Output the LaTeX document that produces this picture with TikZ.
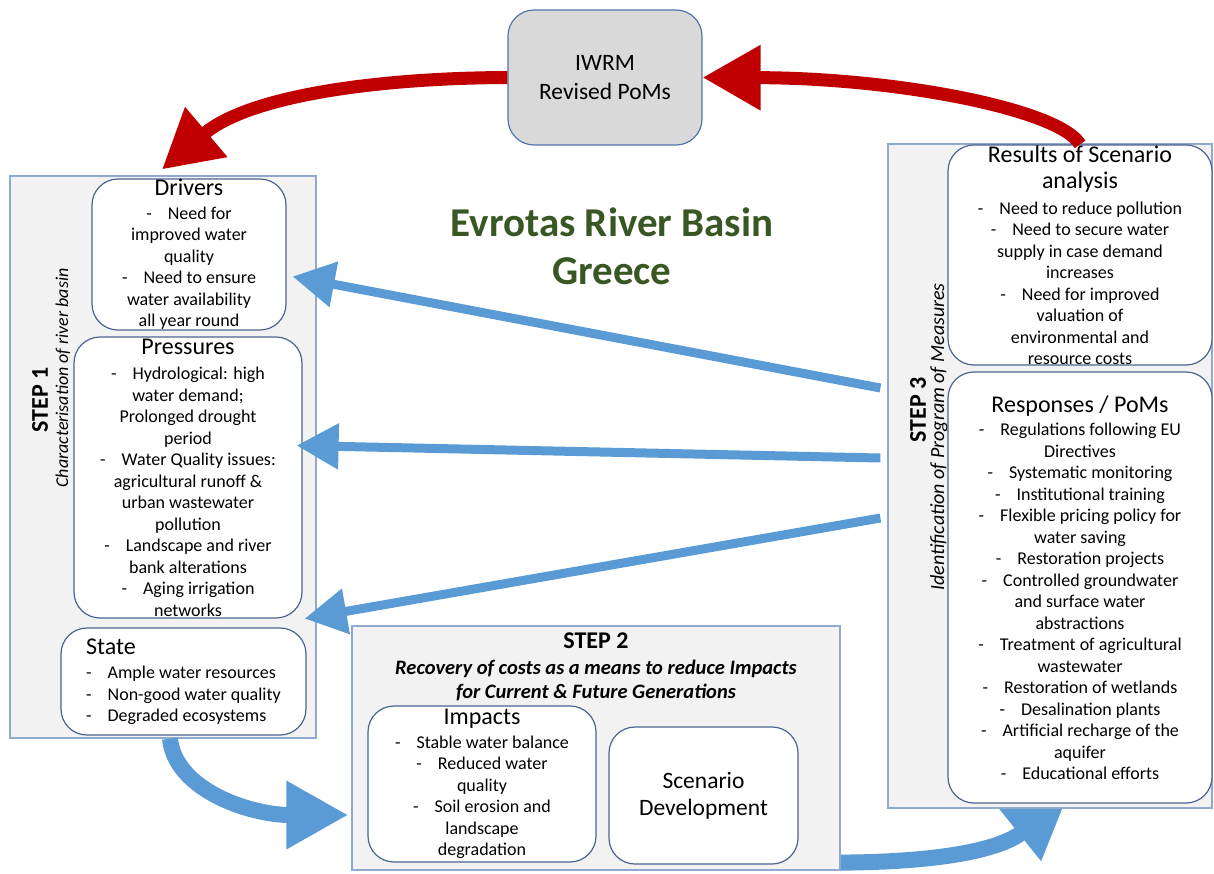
\documentclass[tikz,border=0pt]{standalone}
\usepackage{fontspec}
\setmainfont{Carlito}
\usetikzlibrary{arrows.meta,backgrounds}

\definecolor{stepfill}{RGB}{242,242,242}
\definecolor{stepline}{RGB}{143,170,205}
\definecolor{itemline}{RGB}{75,100,145}
\definecolor{iwrmfill}{RGB}{217,217,217}
\definecolor{iwrmline}{RGB}{80,115,175}
\definecolor{arrowred}{RGB}{192,0,0}
\definecolor{arrowblue}{RGB}{91,155,213}
\definecolor{titlegreen}{RGB}{56,87,35}

\newcommand{\itemfont}{\fontsize{18}{21.5}\selectfont}
\newcommand{\boxhead}[1]{{\fontsize{24}{21.5}\selectfont #1}}
\newcommand{\dgap}{-\hspace{16pt}}

\tikzset{
  stepbox/.style={draw=stepline, fill=stepfill, line width=1.2pt},
  itembox/.style={draw=itemline, fill=white, line width=1.2pt,
    rounded corners=26pt, align=center, font=\itemfont, inner sep=0pt},
  steplabel/.style={rotate=90, font=\fontsize{24}{28}\selectfont\bfseries},
  bluearrow/.style={arrowblue, line width=9pt,
    -{Triangle[width=44pt,length=42pt]}},
  widearrow/.style={arrowblue, line width=16pt,
    -{Triangle[width=64pt,length=62pt]}},
  redarrow/.style={arrowred, line width=13pt,
    -{Triangle[width=62pt,length=58pt]}},
}

\begin{document}
\begin{tikzpicture}[x=1pt,y=-1pt]
    \useasboundingbox (0,0) rectangle (1214,873);

    % step 1
    \node[stepbox,
        minimum width=306pt,
        minimum height=562pt
    ] (step1) at (163,457) {};

    \node[steplabel] (step1label) at (40,400) {STEP 1};
    \node[rotate=90,
        font=\fontsize{18}{28}\selectfont\itshape
    ] (step1sub) at (63,378) {Characterisation of river basin};

    % drivers
    \node[itembox,
        minimum width=194pt,
        minimum height=151pt
    ] (drivers) at (189,254.5)
        {\boxhead{Drivers}\\[2pt]
         \dgap Need for\\ improved water\\ quality\\
         \dgap Need to ensure\\ water availability\\ all year round};

    % pressures
    \node[itembox,
        minimum width=228pt,
        minimum height=281pt
    ] (pressures) at (188,477.5)
        {\boxhead{Pressures}\\[4pt]
         \dgap Hydrological: high\\ water demand;\\
         Prolonged drought\\ period\\
         \dgap Water Quality issues:\\ agricultural runoff \&\\
         urban wastewater\\ pollution\\
         \dgap Landscape and river\\ bank alterations\\
         \dgap Aging irrigation\\ networks};

    % state
    \node[itembox,
        align=left,
        minimum width=245pt,
        minimum height=107pt
    ] (state) at (183.5,681.5)
        {\boxhead{State}\\[3pt]
         \dgap Ample water resources\\
         \dgap Non-good water quality\\
         \dgap Degraded ecosystems};

    % title
    \node[align=center,
        text=titlegreen,
        font=\fontsize{41}{48}\selectfont\bfseries
    ] (title) at (612,246) {Evrotas River Basin\\Greece};

    % iwrm
    \node[draw=iwrmline,
        fill=iwrmfill,
        line width=1.2pt,
        rounded corners=26pt,
        minimum width=194pt,
        minimum height=135pt,
        align=center,
        font=\fontsize{23.5}{29}\selectfont
    ] (iwrm) at (605,77.5) {IWRM\\Revised PoMs};

    % step 3
    \node[stepbox,
        minimum width=324pt,
        minimum height=664pt
    ] (step3) at (1050,476) {};

    \node[steplabel] (step3label) at (918,410) {STEP 3};
    \node[rotate=90,
        font=\fontsize{20}{28}\selectfont\itshape
    ] (step3sub) at (939,437) {Identification of Program of Measures};

    % results
    \node[itembox,
        minimum width=264pt,
        minimum height=220pt
    ] (results) at (1080,255)
        {\boxhead{Results of Scenario}\\[5pt]
         \boxhead{analysis}\\[4pt]
         \dgap Need to reduce pollution\\
         \dgap Need to secure water\\ supply in case demand\\ increases\\
         \dgap Need for improved\\ valuation of\\
         environmental and\\ resource costs};

    % responses
    \node[itembox,
        minimum width=264pt,
        minimum height=431pt
    ] (responses) at (1080,587.5)
        {\boxhead{Responses / PoMs}\\[2pt]
         \dgap Regulations following EU\\ Directives\\
         \dgap Systematic monitoring\\
         \dgap Institutional training\\
         \dgap Flexible pricing policy for\\ water saving\\
         \dgap Restoration projects\\
         \dgap Controlled groundwater\\ and surface water\\ abstractions\\
         \dgap Treatment of agricultural\\ wastewater\\
         \dgap Restoration of wetlands\\
         \dgap Desalination plants\\
         \dgap Artificial recharge of the\\ aquifer\\
         \dgap Educational efforts};

    % step 2
    \node[stepbox,
        minimum width=488pt,
        minimum height=244pt
    ] (step2) at (596,748) {};

    \node[align=center,
        font=\fontsize{20.5}{24}\selectfont\bfseries\itshape
    ] (step2label) at (596,667)
        {{\fontsize{24}{24}\selectfont\upshape STEP 2}\\[2pt]
         \bfseries\itshape Recovery of costs as a means to reduce Impacts\\
         \bfseries\itshape for Current \& Future Generations};

    % impacts
    \node[itembox,
        minimum width=228pt,
        minimum height=156pt
    ] (impacts) at (482,784)
        {\boxhead{Impacts}\\[2pt]
         \dgap Stable water balance\\
         \dgap Reduced water\\ quality\\
         \dgap Soil erosion and\\ landscape\\ degradation};

    % scenario
    \node[itembox,
        font=\fontsize{23.5}{27}\selectfont,
        minimum width=189pt,
        minimum height=137pt
    ] (scenario) at (703.5,795.5) {Scenario\\Development};

    % red loop
    \draw[redarrow] (results.north)
        .. controls (1060,110) and (900,78) .. (iwrm.east);
    \draw[redarrow] (iwrm.west)
        .. controls (380,78) and (250,95) .. ([xshift=-27pt,yshift=9pt]drivers.north);

    % blue arrows to step 1
    \draw[bluearrow] ([xshift=-7pt,yshift=88pt]step3.west)
        -- ([xshift=6pt,yshift=-22pt]drivers.east);
    \draw[bluearrow] ([xshift=-7pt,yshift=18pt]step3.west)
        -- ([xshift=-6pt,yshift=32pt]pressures.east);
    \draw[bluearrow] ([xshift=-7pt,yshift=-42pt]step3.west)
        -- ([xshift=2pt]pressures.south east);

    % flow along the bottom
    \draw[widearrow] ([xshift=7pt]step1.south)
        .. controls (175,790) and (250,815) .. ([xshift=-3pt,yshift=-67pt]step2.west);

    \begin{scope}[on background layer]
        \draw[widearrow] ([yshift=8pt]step2.south east)
            .. controls (940,862) and (1000,850) .. ([xshift=18pt,yshift=13pt]step3.south);
    \end{scope}

\end{tikzpicture}
\end{document}
